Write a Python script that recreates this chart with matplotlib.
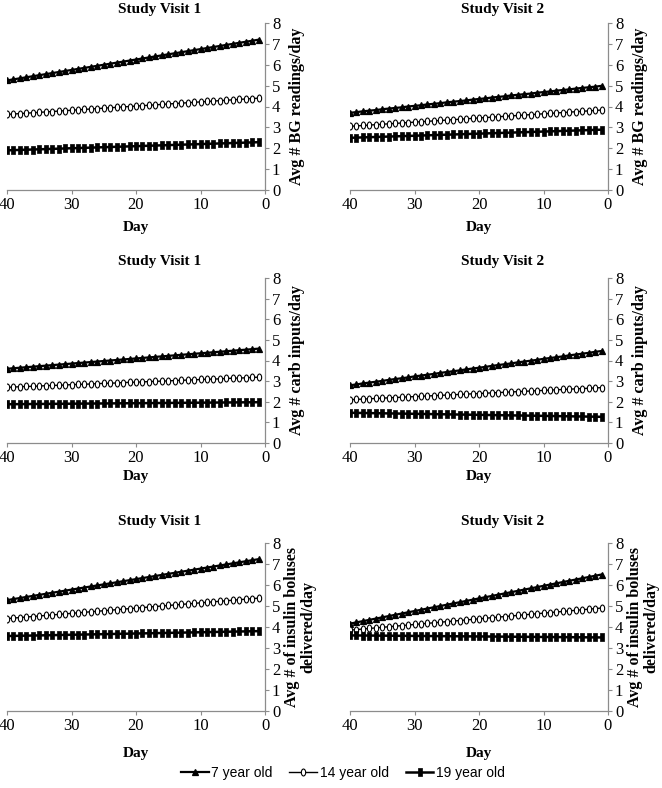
import matplotlib
matplotlib.use("Agg")
import matplotlib.pyplot as plt
from matplotlib.path import Path
from matplotlib.transforms import Affine2D

days = list(range(40, 0, -1))
groups = ["7 year old", "14 year old", "19 year old"]
x_ticks = [40, 30, 20, 10, 0]
y_ticks = [0, 1, 2, 3, 4, 5, 6, 7, 8]
titles = ["Study Visit 1", "Study Visit 2"]
ylabels = ["Avg # BG readings/day", "Avg # carb inputs/day",
           "Avg # of insulin boluses\ndelivered/day"]

# BG readings, visit 1
bg1_7 = [5.25,5.30,5.35,5.40,5.45,5.50,5.55,5.60,5.65,5.70,5.75,5.80,5.85,5.90,5.95,6.00,6.05,6.10,6.15,6.20,
         6.25,6.30,6.35,6.40,6.45,6.50,6.55,6.60,6.65,6.70,6.75,6.80,6.85,6.90,6.95,7.00,7.05,7.10,7.15,7.20]
bg1_14 = [3.62,3.64,3.66,3.68,3.70,3.72,3.74,3.76,3.78,3.80,3.82,3.84,3.86,3.88,3.90,3.92,3.94,3.96,3.98,4.00,
          4.02,4.04,4.06,4.08,4.10,4.12,4.14,4.16,4.18,4.20,4.22,4.24,4.26,4.28,4.30,4.32,4.34,4.36,4.38,4.40]
bg1_19 = [1.90,1.91,1.92,1.93,1.94,1.95,1.96,1.97,1.98,1.99,2.00,2.01,2.02,2.03,2.04,2.05,2.06,2.07,2.08,2.09,
          2.10,2.11,2.12,2.13,2.14,2.15,2.16,2.17,2.18,2.19,2.20,2.21,2.22,2.23,2.24,2.25,2.26,2.27,2.28,2.29]
# BG readings, visit 2
bg2_7 = [3.70,3.73,3.77,3.80,3.83,3.87,3.90,3.93,3.96,4.00,4.03,4.06,4.10,4.13,4.16,4.20,4.23,4.26,4.29,4.33,
         4.36,4.39,4.43,4.46,4.49,4.53,4.56,4.59,4.62,4.66,4.69,4.72,4.76,4.79,4.82,4.86,4.89,4.92,4.95,4.99]
bg2_14 = [3.05,3.07,3.09,3.11,3.13,3.15,3.17,3.19,3.21,3.23,3.25,3.27,3.29,3.31,3.33,3.35,3.37,3.39,3.41,3.43,
          3.45,3.47,3.49,3.51,3.53,3.55,3.57,3.59,3.61,3.63,3.65,3.67,3.69,3.71,3.73,3.75,3.77,3.79,3.81,3.83]
bg2_19 = [2.50,2.51,2.52,2.53,2.54,2.55,2.56,2.57,2.58,2.59,2.60,2.61,2.62,2.63,2.64,2.65,2.66,2.67,2.68,2.69,
          2.70,2.71,2.72,2.73,2.74,2.75,2.76,2.77,2.78,2.79,2.80,2.81,2.82,2.83,2.84,2.85,2.86,2.87,2.88,2.89]
# carb inputs, visit 1
carb1_7 = [3.600,3.625,3.650,3.675,3.700,3.725,3.750,3.775,3.800,3.825,3.850,3.875,3.900,3.925,3.950,3.975,
           4.000,4.025,4.050,4.075,4.100,4.125,4.150,4.175,4.200,4.225,4.250,4.275,4.300,4.325,4.350,4.375,
           4.400,4.425,4.450,4.475,4.500,4.525,4.550,4.575]
carb1_14 = [2.70,2.71,2.73,2.74,2.75,2.76,2.78,2.79,2.80,2.81,2.83,2.84,2.85,2.86,2.88,2.89,2.90,2.91,2.93,2.94,
            2.95,2.96,2.98,2.99,3.00,3.01,3.03,3.04,3.05,3.06,3.08,3.09,3.10,3.11,3.13,3.14,3.15,3.16,3.18,3.19]
carb1_19 = [1.880,1.883,1.885,1.888,1.890,1.893,1.895,1.898,1.900,1.903,1.905,1.908,1.910,1.913,1.915,1.918,
            1.920,1.923,1.925,1.928,1.930,1.933,1.935,1.938,1.940,1.943,1.945,1.948,1.950,1.953,1.955,1.958,
            1.960,1.963,1.965,1.968,1.970,1.973,1.975,1.978]
# carb inputs, visit 2
carb2_7 = [2.80,2.84,2.89,2.93,2.97,3.01,3.06,3.10,3.14,3.18,3.23,3.27,3.31,3.35,3.40,3.44,3.48,3.52,3.57,3.61,
           3.65,3.69,3.74,3.78,3.82,3.86,3.91,3.95,3.99,4.03,4.08,4.12,4.16,4.20,4.25,4.29,4.33,4.37,4.42,4.46]
carb2_14 = [2.100,2.115,2.130,2.145,2.160,2.175,2.190,2.205,2.220,2.235,2.250,2.265,2.280,2.295,2.310,2.325,
            2.340,2.355,2.370,2.385,2.400,2.415,2.430,2.445,2.460,2.475,2.490,2.505,2.520,2.535,2.550,2.565,
            2.580,2.595,2.610,2.625,2.640,2.655,2.670,2.685]
carb2_19 = [1.465,1.460,1.455,1.450,1.445,1.440,1.435,1.430,1.425,1.420,1.415,1.410,1.405,1.400,1.395,1.390,
            1.385,1.380,1.375,1.370,1.365,1.360,1.355,1.350,1.345,1.340,1.335,1.330,1.325,1.320,1.315,1.310,
            1.305,1.300,1.295,1.290,1.285,1.280,1.275,1.270]
# insulin boluses, visit 1
ins1_7 = [5.28,5.33,5.38,5.43,5.48,5.53,5.58,5.63,5.68,5.73,5.78,5.83,5.88,5.93,5.98,6.03,6.08,6.13,6.18,6.23,
          6.28,6.33,6.38,6.43,6.48,6.53,6.58,6.63,6.68,6.73,6.78,6.83,6.88,6.93,6.98,7.03,7.08,7.13,7.18,7.23]
ins1_14 = [4.400,4.425,4.450,4.475,4.500,4.525,4.550,4.575,4.600,4.625,4.650,4.675,4.700,4.725,4.750,4.775,
           4.800,4.825,4.850,4.875,4.900,4.925,4.950,4.975,5.000,5.025,5.050,5.075,5.100,5.125,5.150,5.175,
           5.200,5.225,5.250,5.275,5.300,5.325,5.350,5.375]
ins1_19 = [3.570,3.576,3.582,3.588,3.594,3.600,3.606,3.612,3.618,3.624,3.630,3.636,3.642,3.648,3.654,3.660,
           3.666,3.672,3.678,3.684,3.690,3.696,3.702,3.708,3.714,3.720,3.726,3.732,3.738,3.744,3.750,3.756,
           3.762,3.768,3.774,3.780,3.786,3.792,3.798,3.804]
# insulin boluses, visit 2
ins2_7 = [4.16,4.22,4.28,4.34,4.40,4.46,4.52,4.58,4.64,4.70,4.76,4.82,4.88,4.94,5.00,5.06,5.12,5.18,5.24,5.30,
          5.36,5.42,5.48,5.54,5.60,5.66,5.72,5.78,5.84,5.90,5.96,6.02,6.08,6.14,6.20,6.26,6.32,6.38,6.44,6.50]
ins2_14 = [3.850,3.877,3.904,3.931,3.958,3.985,4.012,4.039,4.066,4.093,4.120,4.147,4.174,4.201,4.228,4.255,
           4.282,4.309,4.336,4.363,4.390,4.417,4.444,4.471,4.498,4.525,4.552,4.579,4.606,4.633,4.660,4.687,
           4.714,4.741,4.768,4.795,4.822,4.849,4.876,4.903]
ins2_19 = [3.600,3.598,3.595,3.593,3.590,3.588,3.585,3.583,3.580,3.578,3.575,3.573,3.570,3.568,3.565,3.563,
           3.560,3.558,3.555,3.553,3.550,3.548,3.545,3.543,3.540,3.538,3.535,3.533,3.530,3.528,3.525,3.523,
           3.520,3.518,3.515,3.513,3.510,3.508,3.505,3.503]

panels = [
    [(bg1_7, bg1_14, bg1_19), (bg2_7, bg2_14, bg2_19)],
    [(carb1_7, carb1_14, carb1_19), (carb2_7, carb2_14, carb2_19)],
    [(ins1_7, ins1_14, ins1_19), (ins2_7, ins2_14, ins2_19)],
]

W, H = 662, 788
fig = plt.figure(figsize=(W / 100, H / 100), dpi=100)
serif = ["Liberation Serif", "DejaVu Serif"]
sans = ["Liberation Sans", "DejaVu Sans"]

oval = Path.unit_circle().transformed(Affine2D().scale(0.62, 1.0))
tall_rect = Path([(-0.55, -1), (0.55, -1), (0.55, 1), (-0.55, 1), (-0.55, -1)],
                 [Path.MOVETO, Path.LINETO, Path.LINETO, Path.LINETO, Path.CLOSEPOLY])

# pixel geometry (left, right, top, bottom)
col_x = [(7, 265), (350, 608)]
row_y = [(23, 190), (278, 443), (543, 711)]
title_y = [10, 262, 522]
day_y = [228, 477, 754]
ylab_x = [[297, 640], [297, 640], [300, 643]]

styles = [
    dict(marker="^", ms=4.5, mfc="black", mec="black", mew=0.9, lw=1.6),
    dict(marker=oval, ms=5.0, mfc="white", mec="black", mew=0.8, lw=1.0),
    dict(marker=tall_rect, ms=5.5, mfc="black", mec="black", mew=0.5, lw=1.8),
]

handles = None
for r in range(3):
    for c in range(2):
        l, rr = col_x[c]
        t, b = row_y[r]
        ax = fig.add_axes([l / W, 1 - b / H, (rr - l) / W, (b - t) / H])
        hs = []
        for s, vals in enumerate(panels[r][c]):
            h, = ax.plot(days, vals, color="black", label=groups[s], **styles[s])
            hs.append(h)
        handles = hs
        ax.set_xlim(40, 0)
        ax.set_ylim(0, 8)
        ax.set_xticks(x_ticks)
        ax.set_yticks(y_ticks)
        ax.yaxis.tick_right()
        for sp in ["top", "left"]:
            ax.spines[sp].set_visible(False)
        for sp in ["bottom", "right"]:
            ax.spines[sp].set_color("#8c8c8c")
            ax.spines[sp].set_linewidth(0.9)
        ax.tick_params(axis="both", direction="out", length=3, width=0.8,
                       color="#8c8c8c", labelsize=12, pad=2)
        for lab in ax.get_xticklabels() + ax.get_yticklabels():
            lab.set_family(serif)
        ax.patch.set_alpha(0)
        # texts
        fig.text((l + (rr - l) / 2 + 24) / W, 1 - title_y[r] / H, titles[c],
                 ha="center", va="center", fontsize=11, fontweight="bold", family=serif)
        fig.text((l + rr) / 2 / W, 1 - day_y[r] / H, "Day",
                 ha="center", va="center", fontsize=11, fontweight="bold", family=serif)
        fig.text(ylab_x[r][c] / W, 1 - (t + b) / 2 / H, ylabels[r], rotation=90,
                 ha="center", va="center", fontsize=11.5, fontweight="bold", family=serif,
                 linespacing=1.0)

leg = fig.legend(handles, groups, loc="center", bbox_to_anchor=(343 / W, 1 - 773 / H),
                 ncol=3, frameon=False, handlelength=2.0, columnspacing=1.2,
                 handletextpad=0.2, numpoints=1, prop={"family": sans, "size": 10})

fig.savefig("out.png", dpi=100)
